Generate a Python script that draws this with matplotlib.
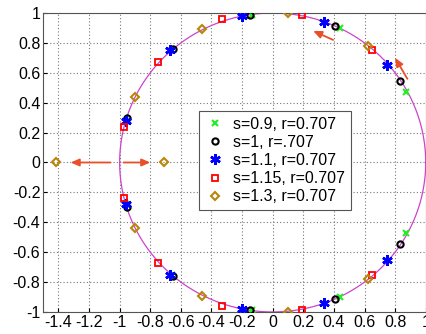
import matplotlib.pyplot as plt
import numpy as np

plt.rcParams["font.family"] = ["Liberation Sans", "DejaVu Sans"]
plt.rcParams["axes.unicode_minus"] = False

# points (x, y)
s09_x = [-0.96, -0.66, -0.135, 0.44, 0.87, 0.87, 0.44, -0.135, -0.66, -0.96]
s09_y = [0.28, 0.75, 0.99, 0.90, 0.47, -0.47, -0.90, -0.99, -0.75, -0.28]

s10_x = [-0.95, -0.65, -0.148, 0.406, 0.83, 0.83, 0.406, -0.148, -0.65, -0.95]
s10_y = [0.30, 0.76, 0.99, 0.91, 0.545, -0.545, -0.91, -0.99, -0.76, -0.30]

s11_x = [-0.96, -0.67, -0.20, 0.335, 0.75, 0.75, 0.335, -0.20, -0.67, -0.96]
s11_y = [0.28, 0.75, 0.98, 0.94, 0.655, -0.655, -0.94, -0.98, -0.75, -0.28]

s115_x = [-0.974, -0.75, -0.33, 0.19, 0.65, 0.65, 0.19, -0.33, -0.75, -0.974]
s115_y = [0.24, 0.67, 0.96, 0.985, 0.75, -0.75, -0.985, -0.96, -0.67, -0.24]

s13_x = [-1.414, -0.897, -0.465, 0.097, 0.62, -0.707, 0.62, 0.097, -0.465, -0.897]
s13_y = [0.0, 0.44, 0.89, 1.0, 0.78, 0.0, -0.78, -1.0, -0.89, -0.44]

labels = ["s=0.9, r=0.707", "s=1, r=.707", "s=1.1, r=0.707",
          "s=1.15, r=0.707", "s=1.3, r=0.707"]

# arrows: (tail, head)
arrows = [((-1.06, 0.0), (-1.32, 0.0)),
          ((-0.975, 0.0), (-0.80, 0.0)),
          ((0.395, 0.82), (0.265, 0.88)),
          ((0.88, 0.56), (0.80, 0.70))]

fig = plt.figure(figsize=(4.27, 3.34), dpi=100)
ax = fig.add_axes([0.101, 0.066, 0.896, 0.895])

t = np.linspace(0, 2 * np.pi, 400)
ax.plot(np.cos(t), np.sin(t), color="#cc44cc", lw=0.9, zorder=2)

ax.plot(s09_x, s09_y, "x", color="#22ee22", ms=5, mew=1.5, ls="none", label=labels[0], zorder=3)
ax.plot(s10_x, s10_y, "o", mfc="none", mec="black", ms=4.5, mew=1.5, ls="none", label=labels[1], zorder=4)
ax.plot(s11_x, s11_y, marker=(6, 2, 0), color="blue", ms=7.5, mew=1.8, ls="none", label=labels[2], zorder=5)
ax.plot(s115_x, s115_y, "s", mfc="none", mec="red", ms=4.5, mew=1.3, ls="none", label=labels[3], zorder=6)
ax.plot(s13_x, s13_y, "D", mfc="none", mec="#b8860b", ms=4, mew=1.5, ls="none", label=labels[4], zorder=7)

for tail, head in arrows:
    ax.annotate("", xy=head, xytext=tail,
                arrowprops=dict(arrowstyle="-|>,head_length=0.5,head_width=0.22",
                                color="#e8502a", lw=1.3, shrinkA=0, shrinkB=0),
                zorder=3)

ax.set_xlim(-1.5, 1)
ax.set_ylim(-1, 1)
ax.set_xticks(np.arange(-1.4, 1.01, 0.2))
ax.set_yticks(np.arange(-1, 1.01, 0.2))
ax.set_xticklabels(["-1.4", "-1.2", "-1", "-0.8", "-0.6", "-0.4", "-0.2",
                    "0", "0.2", "0.4", "0.6", "0.8", "1"])
ax.set_yticklabels(["-1", "-0.8", "-0.6", "-0.4", "-0.2", "0",
                    "0.2", "0.4", "0.6", "0.8", "1"])
ax.tick_params(direction="in", length=3, labelsize=11.5, pad=2)
ax.grid(True, color="#777777", ls=(0, (1, 2)), lw=0.8)
for sp in ax.spines.values():
    sp.set_color("#555555")

leg = ax.legend(loc="upper left", bbox_to_anchor=(0.407, 0.672), fontsize=11.5,
                frameon=True, fancybox=False, edgecolor="#555555",
                handletextpad=0.5, borderpad=0.35, labelspacing=0.2,
                handlelength=1.3, borderaxespad=0, framealpha=1)
leg.get_frame().set_linewidth(0.8)

fig.savefig("out.png", dpi=100)
